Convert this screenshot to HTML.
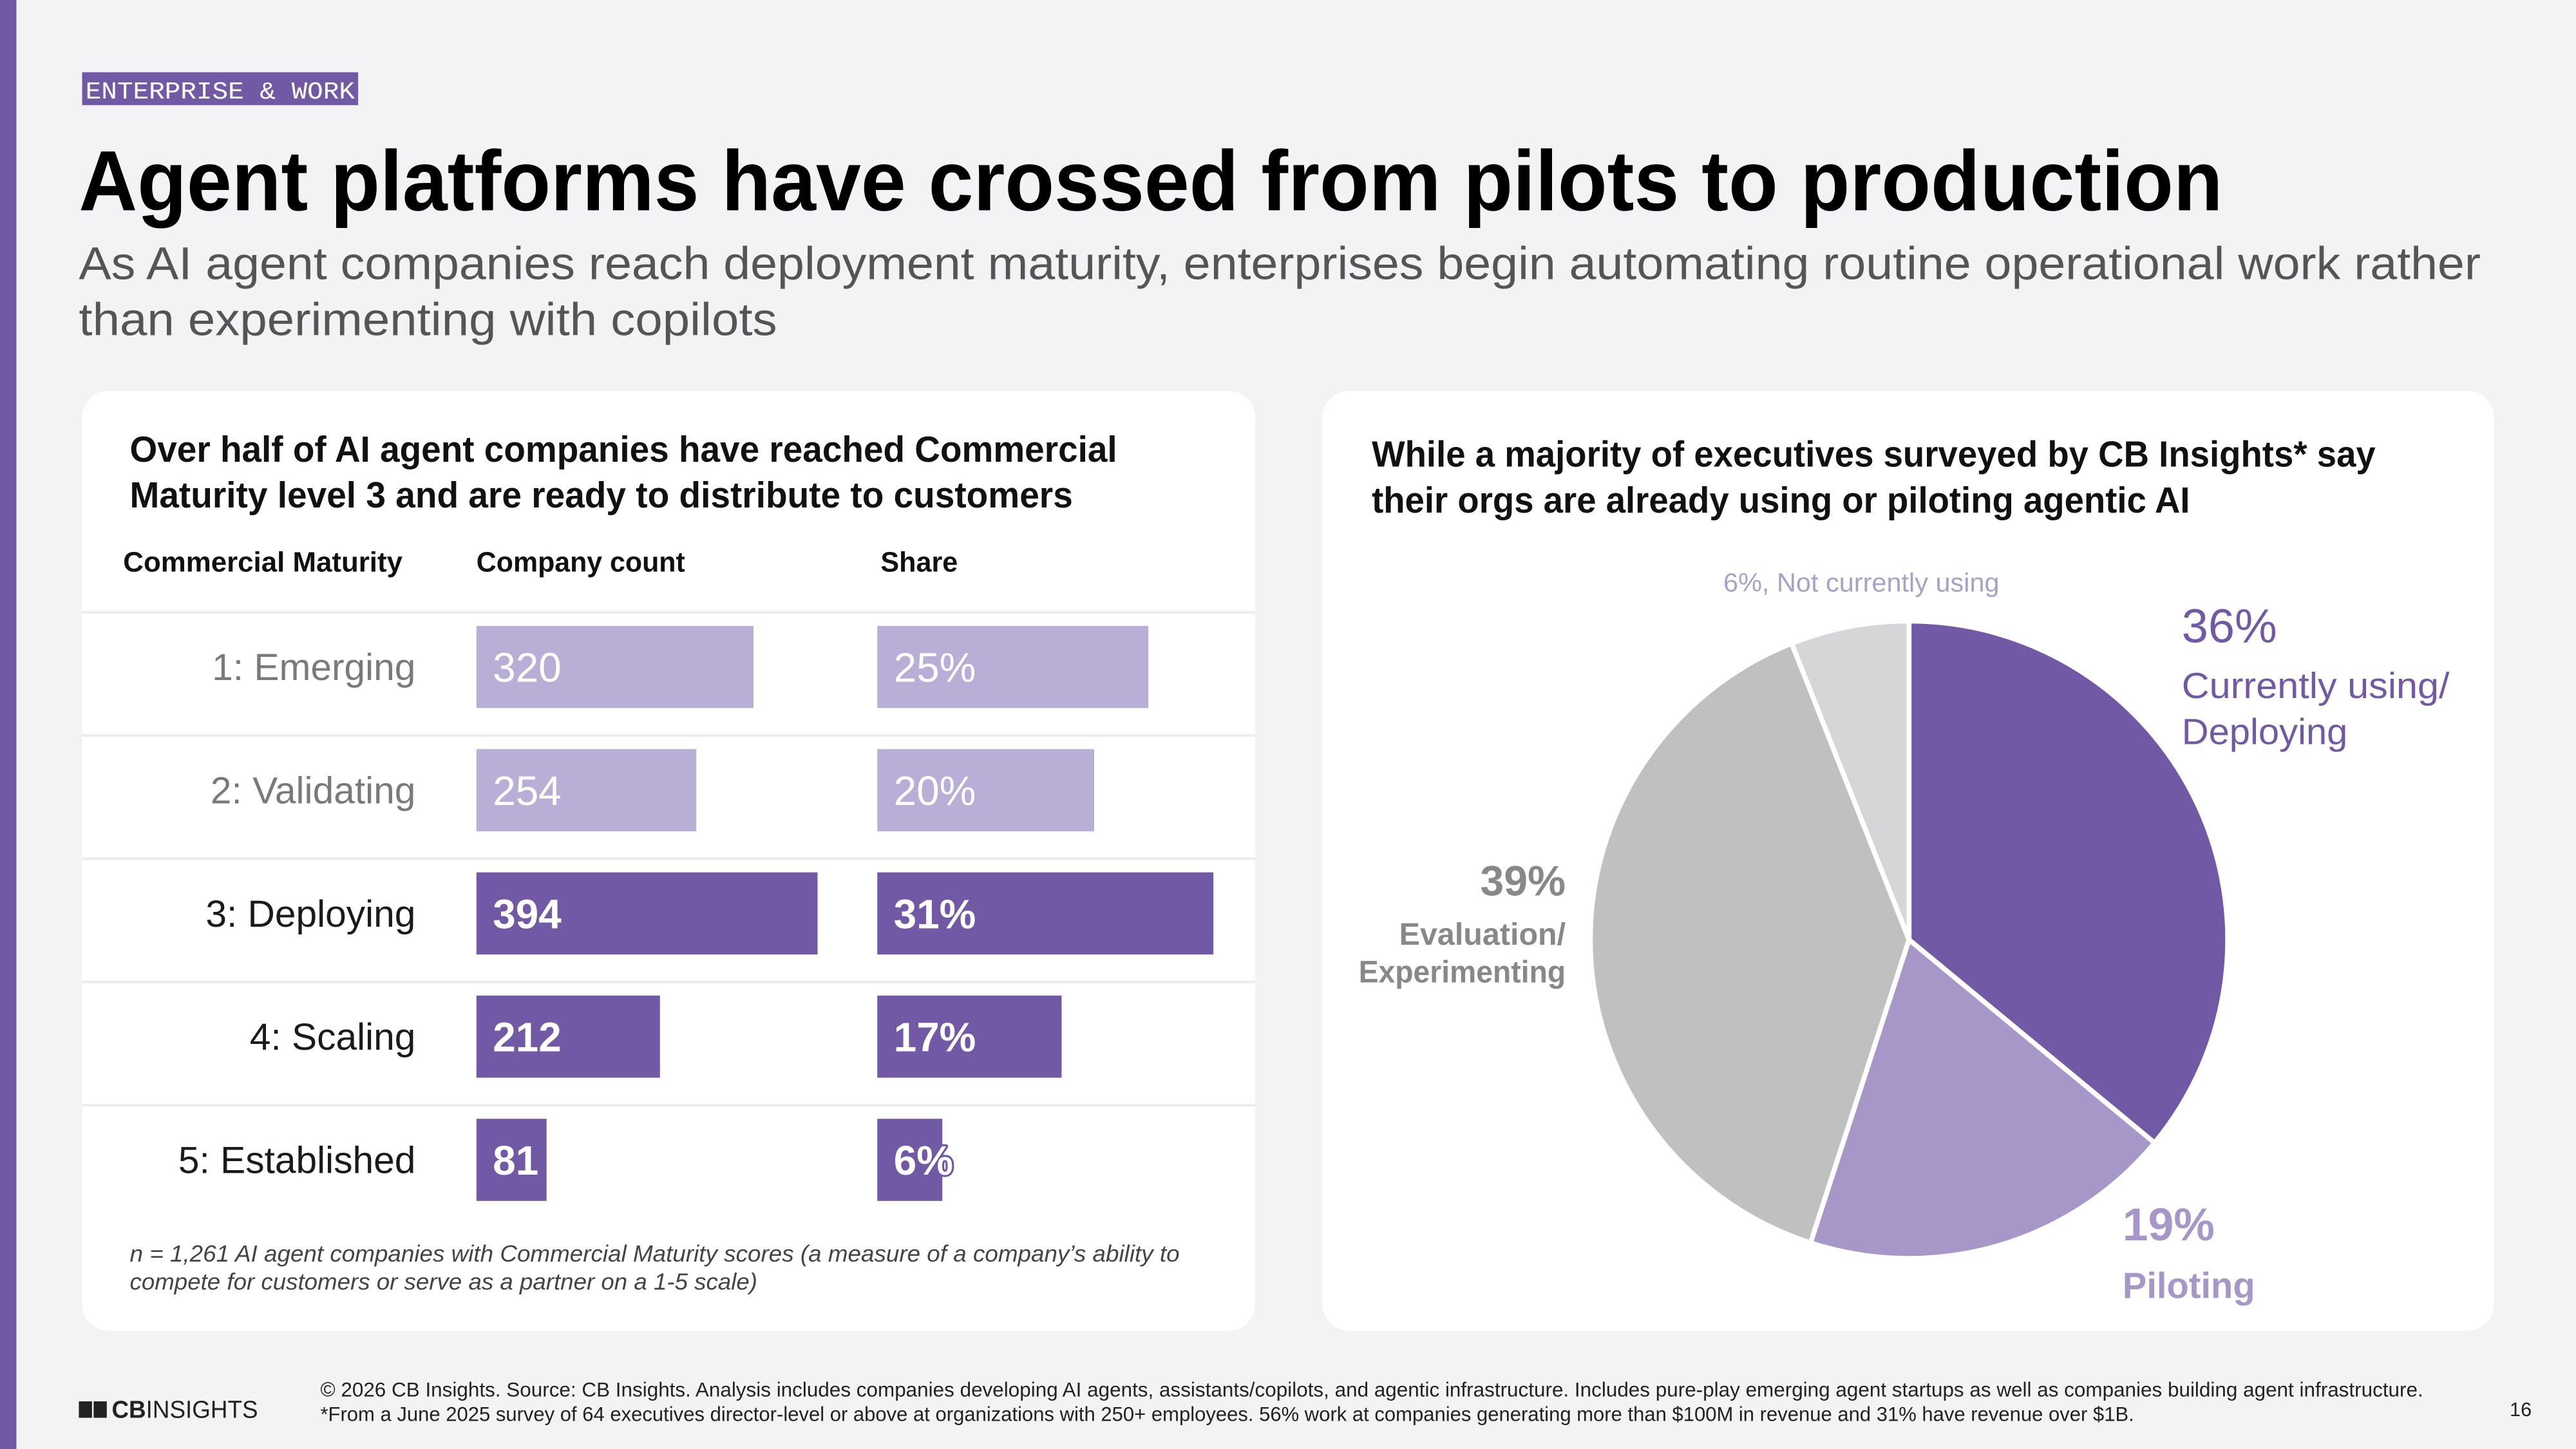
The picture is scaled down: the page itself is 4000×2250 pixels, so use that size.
<!DOCTYPE html>
<html><head><meta charset="utf-8"><style>
html,body{margin:0;padding:0;background:#f3f3f5;}
svg{display:block;font-family:"Liberation Sans",sans-serif;}
</style></head><body>
<svg id="page" width="4000" height="2250" viewBox="0 0 1568 882" preserveAspectRatio="none" xmlns="http://www.w3.org/2000/svg">
<rect x="0" y="0" width="1568" height="882" fill="#f3f3f5"/>
<rect x="0" y="0" width="10" height="882" fill="#7259a6"/>
<g>
<rect x="50" y="44" width="168" height="20" fill="#7259a6"/>
<text x="52" y="60" font-family="Liberation Mono,monospace" font-size="15" fill="#fff" textLength="164" lengthAdjust="spacingAndGlyphs">ENTERPRISE &amp; WORK</text>
</g>
<text x="48" y="128" font-size="52" font-weight="bold" fill="#000" textLength="1305" lengthAdjust="spacingAndGlyphs">Agent platforms have crossed from pilots to production</text>
<g font-size="28" fill="#555">
<text x="48" y="170" textLength="1462" lengthAdjust="spacingAndGlyphs">As AI agent companies reach deployment maturity, enterprises begin automating routine operational work rather</text>
<text x="48" y="204" textLength="425" lengthAdjust="spacingAndGlyphs">than experimenting with copilots</text>
</g>
<rect x="50" y="238" width="714" height="572" rx="16" fill="#fff"/>
<rect x="805" y="238" width="713" height="572" rx="16" fill="#fff"/>
<g font-size="22" font-weight="bold" fill="#111">
<text x="79" y="281" textLength="601" lengthAdjust="spacingAndGlyphs">Over half of AI agent companies have reached Commercial</text>
<text x="79" y="309" textLength="574" lengthAdjust="spacingAndGlyphs">Maturity level 3 and are ready to distribute to customers</text>
</g>
<g font-size="17" font-weight="bold" fill="#111">
<text x="75" y="348" textLength="170" lengthAdjust="spacingAndGlyphs">Commercial Maturity</text>
<text x="290" y="348" textLength="127" lengthAdjust="spacingAndGlyphs">Company count</text>
<text x="536" y="348" textLength="47" lengthAdjust="spacingAndGlyphs">Share</text>
</g>
<g id="bars"></g>
<g font-size="14" font-style="italic" fill="#444">
<text x="79" y="768" textLength="639" lengthAdjust="spacingAndGlyphs">n = 1,261 AI agent companies with Commercial Maturity scores (a measure of a company’s ability to</text>
<text x="79" y="785" textLength="382" lengthAdjust="spacingAndGlyphs">compete for customers or serve as a partner on a 1-5 scale)</text>
</g>
<g font-size="22" font-weight="bold" fill="#111">
<text x="835" y="284" textLength="611" lengthAdjust="spacingAndGlyphs">While a majority of executives surveyed by CB Insights* say</text>
<text x="835" y="312" textLength="498" lengthAdjust="spacingAndGlyphs">their orgs are already using or piloting agentic AI</text>
</g>
<g id="pie"></g>
<g>
<text x="1049" y="360" font-size="16" fill="#aaa0c8" textLength="168" lengthAdjust="spacingAndGlyphs">6%, Not currently using</text>
<text x="1328" y="391" font-size="29" fill="#7259a6">36%</text>
<text x="1328" y="425" font-size="22" fill="#7259a6" textLength="163" lengthAdjust="spacingAndGlyphs">Currently using/</text>
<text x="1328" y="453" font-size="22" fill="#7259a6" textLength="101" lengthAdjust="spacingAndGlyphs">Deploying</text>
<text x="953" y="545" font-size="26" font-weight="bold" fill="#888" text-anchor="end">39%</text>
<text x="953" y="575" font-size="19" font-weight="bold" fill="#888" text-anchor="end">Evaluation/</text>
<text x="953" y="598" font-size="19" font-weight="bold" fill="#888" text-anchor="end" textLength="126" lengthAdjust="spacingAndGlyphs">Experimenting</text>
<text x="1292" y="755" font-size="28" font-weight="bold" fill="#a797c9">19%</text>
<text x="1292" y="790" font-size="22" font-weight="bold" fill="#a797c9">Piloting</text>
</g>
<g>
<rect x="48" y="853" width="8" height="10" fill="#222"/><rect x="57" y="853" width="8" height="10" fill="#222"/>
<text x="68" y="863" font-size="15" fill="#222" textLength="89" lengthAdjust="spacingAndGlyphs"><tspan font-weight="bold">CB</tspan>INSIGHTS</text>
</g>
<g font-size="12.5" fill="#222">
<text x="195" y="850" textLength="1280" lengthAdjust="spacingAndGlyphs">© 2026 CB Insights. Source: CB Insights. Analysis includes companies developing AI agents, assistants/copilots, and agentic infrastructure. Includes pure-play emerging agent startups as well as companies building agent infrastructure.</text>
<text x="195" y="865" textLength="1104" lengthAdjust="spacingAndGlyphs">*From a June 2025 survey of 64 executives director-level or above at organizations with 250+ employees. 56% work at companies generating more than $100M in revenue and 31% have revenue over $1B.</text>
</g>
<text x="1541" y="862" font-size="12" fill="#222" text-anchor="end">16</text>
</svg>
<script>
const stageLabels = ["1: Emerging","2: Validating","3: Deploying","4: Scaling","5: Established"];
const companyCounts = [320,254,394,212,81];
const sharePct = [25,20,31,17,6];
const highlighted = [false,false,true,true,true];
const pieLabels = ["Currently using/Deploying","Piloting","Evaluation/Experimenting","Not currently using"];
const pieValues = [36,19,39,6];
const pieColors = ["#7259a6","#a797c9","#c0c0c0","#d6d6d8"];

const NS = "http://www.w3.org/2000/svg";
function mk(tag, attrs){const e=document.createElementNS(NS,tag);for(const k in attrs)e.setAttribute(k,attrs[k]);return e;}
const countX = v => v * 0.527;
const shareX = v => v * 6.6;
const rowTop = i => 372 + i * 75;

const bars = document.getElementById('bars');
for (let i = 0; i < stageLabels.length; i++) {
  const top = rowTop(i), mid = top + 34, hl = highlighted[i];
  const sep = mk('rect',{x:50,y:top,width:714,height:1.5,fill:'#ececef'});
  
  
  bars.appendChild(sep);
  const lab = mk('text',{x:253,y:mid+8,'font-size':23,'text-anchor':'end',fill:hl?'#1a1a1a':'#7a7a7a'});
  lab.textContent = stageLabels[i];
  
  
  bars.appendChild(lab);
  const fill = hl ? '#7259a6' : '#b9afd6';
  const cb = mk('rect',{x:290,y:top+9,width:countX(companyCounts[i]),height:50,fill:fill});
  
  
  bars.appendChild(cb);
  const ct = mk('text',{x:300,y:mid+9,'font-size':25,fill:'#fff','font-weight':hl?'bold':'normal'});
  ct.textContent = companyCounts[i];
  
  
  bars.appendChild(ct);
  const sb = mk('rect',{x:534,y:top+9,width:shareX(sharePct[i]),height:50,fill:fill});
  
  
  bars.appendChild(sb);
  const st = mk('text',{x:544,y:mid+9,'font-size':25,fill:'#fff','font-weight':hl?'bold':'normal',stroke:fill,'stroke-width':2.5,'paint-order':'stroke','stroke-linejoin':'round'});
  st.textContent = sharePct[i] + '%';
  
  
  bars.appendChild(st);
}

const pie = document.getElementById('pie');
const cx = 1162, cy = 572, r = 194;
const total = pieValues.reduce((a,b)=>a+b,0);
let acc = 0;
for (let i = 0; i < pieValues.length; i++) {
  const a0 = acc / total * 2 * Math.PI; acc += pieValues[i];
  const a1 = acc / total * 2 * Math.PI;
  const x0 = cx + r*Math.sin(a0), y0 = cy - r*Math.cos(a0);
  const x1 = cx + r*Math.sin(a1), y1 = cy - r*Math.cos(a1);
  const large = (a1 - a0) > Math.PI ? 1 : 0;
  const p = mk('path',{d:`M${cx},${cy} L${x0},${y0} A${r},${r} 0 ${large} 1 ${x1},${y1} Z`,fill:pieColors[i],stroke:'#fff','stroke-width':3,'stroke-linejoin':'round'});
  
  
  pie.appendChild(p);
}
</script>
</body></html>
